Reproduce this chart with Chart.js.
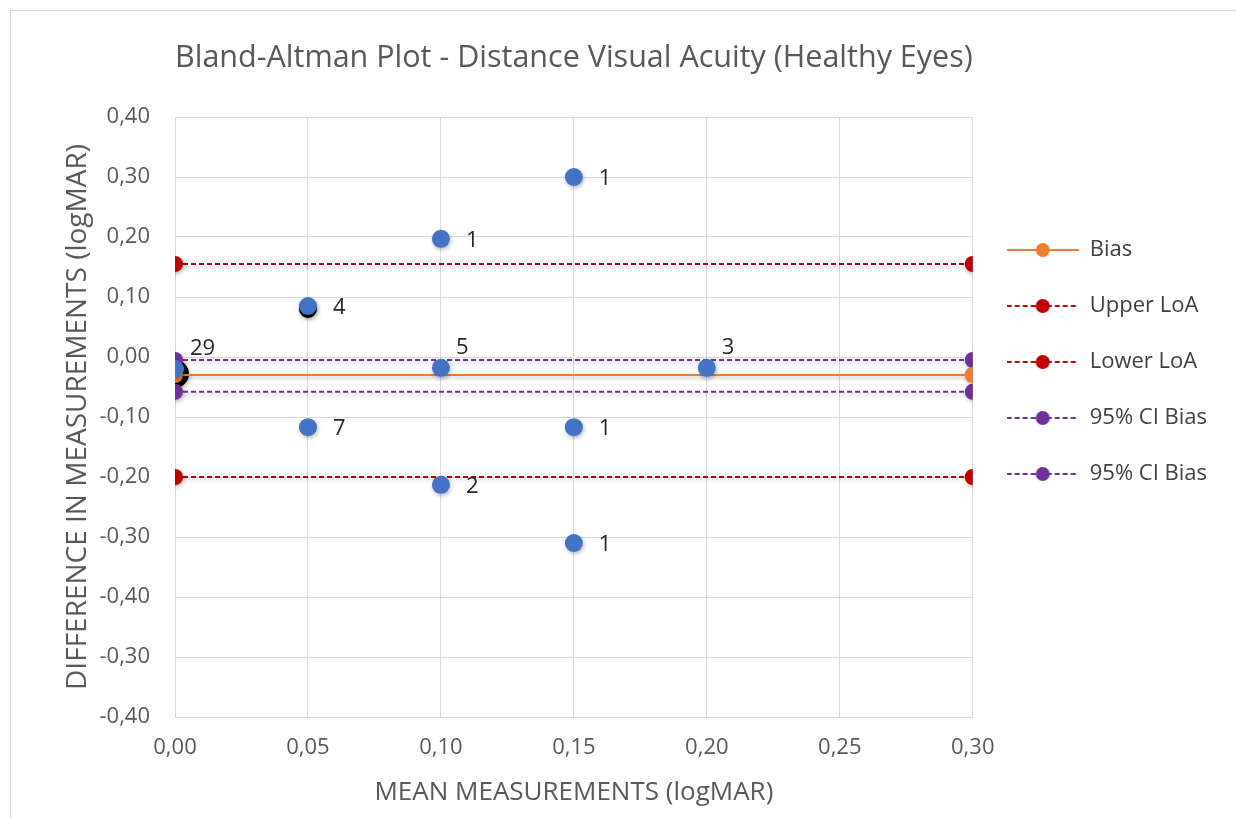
<!DOCTYPE html>
<html><head><meta charset="utf-8">
<script src="https://cdn.jsdelivr.net/npm/chart.js@4.4.1/dist/chart.umd.min.js"></script>
<style>html,body{margin:0;padding:0;background:#fff;} canvas{display:block}</style>
</head><body>
<canvas id="c" width="1236" height="818"></canvas>
<script>
// ---- data ----
const xTickLabels = ['0,00','0,05','0,10','0,15','0,20','0,25','0,30'];
const yTickLabels = ['0,40','0,30','0,20','0,10','0,00','-0,10','-0,20','-0,30','-0,40','-0,30','-0,40']; // top to bottom
const meanX = [0.15, 0.10, 0.05, 0.00, 0.10, 0.20, 0.05, 0.15, 0.10, 0.15];
const diffY = [0.30, 0.197, 0.085, -0.02, -0.018, -0.018, -0.117, -0.117, -0.213, -0.31];
const counts = ['1','1','4','29','5','3','7','1','2','1'];
const labelSide = ['right','right','right','above','above','above','right','right','right','right'];
const lineX = [0.00, 0.30];
const bias = -0.03;
const upperLoA = 0.155;
const lowerLoA = -0.20;
const ciBiasUpper = -0.005;
const ciBiasLower = -0.058;
const overlapX = [0.00, 0.05];
const overlapY = [-0.028, 0.08];

const FONT = '"Open Sans", "Noto Sans", sans-serif';

function legendIcon(color, dashed){
  const cv = document.createElement('canvas'); cv.width = 72; cv.height = 18;
  const c = cv.getContext('2d');
  c.strokeStyle = color; c.lineWidth = 2; if (dashed) c.setLineDash([5,3]);
  c.beginPath(); c.moveTo(0,9); c.lineTo(72,9); c.stroke();
  c.setLineDash([]); c.fillStyle = color; c.beginPath(); c.arc(36,9,7,0,Math.PI*2); c.fill();
  return cv;
}

function hLine(label, y, color, dashed){
  return {
    label, data: lineX.map(x => ({x, y})), showLine: true,
    borderColor: color, backgroundColor: color, borderWidth: 2,
    borderDash: dashed ? [5,3] : [], pointRadius: 8, pointBorderWidth: 0,
    legendIcon: legendIcon(color, dashed)
  };
}

const frame = { id:'frame', beforeDraw(chart){ const c = chart.ctx; c.save(); c.fillStyle = '#ffffff'; c.fillRect(0,0,chart.width,chart.height); c.strokeStyle = '#d9d9d9'; c.lineWidth = 1; c.strokeRect(10.5,10.5,chart.width+20,chart.height+20); c.restore(); } };
const shadow = { id:'shadow',
  beforeDatasetDraw(chart){ const c = chart.ctx; c.save(); c.shadowColor = 'rgba(0,0,0,0.28)'; c.shadowBlur = 4; c.shadowOffsetX = 1; c.shadowOffsetY = 2; },
  afterDatasetDraw(chart){ chart.ctx.restore(); } };
const countLabels = { id:'countLabels', afterDatasetsDraw(chart){
  const meta = chart.getDatasetMeta(0); const c = chart.ctx;
  c.save(); c.font = '22px ' + FONT; c.fillStyle = '#262626'; c.textBaseline = 'middle'; c.textAlign = 'left';
  meta.data.forEach((pt, i) => {
    if (labelSide[i] === 'above') c.fillText(counts[i], pt.x + 15, pt.y - 20);
    else c.fillText(counts[i], pt.x + 25, pt.y + 2);
  });
  c.restore(); } };

new Chart(document.getElementById('c'), {
  type: 'scatter',
  data: { datasets: [
    { label:'Data', data: meanX.map((x,i) => ({x, y: diffY[i]})), backgroundColor:'#4472C4', borderColor:'#4472C4', pointRadius: 9, pointBorderWidth: 0 },
    hLine('Bias', bias, '#ED7D31', false),
    hLine('Upper LoA', upperLoA, '#C00000', true),
    hLine('Lower LoA', lowerLoA, '#C00000', true),
    hLine('95% CI Bias', ciBiasUpper, '#7030A0', true),
    hLine('95% CI Bias', ciBiasLower, '#7030A0', true),
    { label:'overlap', data: overlapX.map((x,i) => ({x, y: overlapY[i]})), backgroundColor:'#000000', borderColor:'#000000', pointRadius: [14, 9], pointBorderWidth: 0 }
  ]},
  options: {
    responsive: false, animation: false, events: [],
    layout: { padding: { left: 0, top: 0, right: 19, bottom: 0 } },
    plugins: {
      tooltip: { enabled: false },
      title: { display: true, fullSize: false, text: 'Bland-Altman Plot - Distance Visual Acuity (Healthy Eyes)', color: '#595959',
               font: { family: FONT, size: 31, weight: 'normal' }, padding: { top: 39.4, bottom: 40.4 } },
      legend: { position: 'right', align: 'start', fullSize: false,
        title: { display: true, text: '', padding: { top: 0, bottom: 73.6 } },
        labels: { usePointStyle: true, pointStyleWidth: 72, padding: 34, color: '#404040', font: { family: FONT, size: 22 },
          generateLabels(chart){
            return chart.data.datasets.map((ds, i) => ({ text: ds.label, pointStyle: ds.legendIcon, datasetIndex: i, hidden: false, lineWidth: 0, fillStyle: 'transparent', strokeStyle: 'transparent', fontColor: '#404040' }))
              .filter(it => chart.data.datasets[it.datasetIndex].legendIcon);
          } } }
    },
    scales: {
      x: { type: 'linear', min: 0, max: 0.3,
        afterFit(s){ s.height = 101; },
        grid: { color: '#d9d9d9', drawTicks: false }, border: { color: '#d9d9d9' },
        ticks: { stepSize: 0.05, padding: 18, color: '#595959', font: { family: FONT, size: 22 },
          callback(v, i){ return xTickLabels[i]; } },
        title: { display: true, text: 'MEAN MEASUREMENTS (logMAR)', color: '#595959', font: { family: FONT, size: 26 }, padding: { top: 0, bottom: 10 } } },
      y: { type: 'linear', min: -0.6, max: 0.4,
        afterFit(s){ s.width = 175; },
        grid: { color: '#d9d9d9', drawTicks: false }, border: { color: '#d9d9d9' },
        ticks: { stepSize: 0.1, padding: 25, color: '#595959', font: { family: FONT, size: 22 },
          callback(v, i, ticks){ return yTickLabels[ticks.length - 1 - i]; } },
        title: { display: true, text: 'DIFFERENCE IN MEASUREMENTS (logMAR)', color: '#595959', font: { family: FONT, size: 28 }, padding: { top: 61.2, bottom: 0 } } }
    }
  },
  plugins: [frame, shadow, countLabels]
});
</script>
</body></html>
